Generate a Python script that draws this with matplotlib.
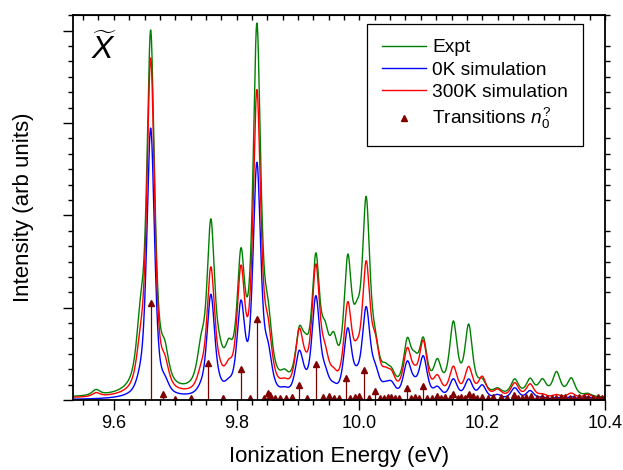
import numpy as np
import matplotlib
matplotlib.use("Agg")
import matplotlib.pyplot as plt
from matplotlib.ticker import MultipleLocator, NullFormatter, FormatStrFormatter

plt.rcParams["font.family"] = ["Liberation Sans", "DejaVu Sans"]
plt.rcParams["mathtext.fontset"] = "custom"
plt.rcParams["mathtext.it"] = "Liberation Sans:italic"
plt.rcParams["mathtext.rm"] = "Liberation Sans"

# band positions (eV), heights in major-tick units
peak_ev = [9.571, 9.643, 9.660, 9.683, 9.742, 9.758, 9.772, 9.787, 9.807, 9.833,
           9.851, 9.878, 9.902, 9.912, 9.929, 9.944, 9.958, 9.981, 9.996, 10.011,
           10.026, 10.042, 10.052, 10.078, 10.090, 10.104, 10.127, 10.153, 10.178,
           10.200, 10.225, 10.253, 10.278, 10.298, 10.321, 10.345, 10.372]
expt_h = [0.06, 0.55, 3.87, 0.30, 0.35, 1.76, 0.18, 0.30, 1.30, 3.87,
          0.55, 0.10, 0.52, 0.25, 1.35, 0.42, 0.40, 1.30, 0.45, 1.95,
          0.30, 0.14, 0.14, 0.50, 0.22, 0.52, 0.30, 0.74, 0.72,
          0.12, 0.06, 0.17, 0.17, 0.16, 0.25, 0.19, 0.03]
sim300_h = [0.04, 0.34, 3.62, 0.22, 0.15, 1.32, 0.10, 0.18, 1.22, 3.20,
            0.50, 0.06, 0.60, 0.10, 1.32, 0.30, 0.12, 0.90, 0.25, 1.32,
            0.42, 0.14, 0.16, 0.45, 0.12, 0.55, 0.18, 0.30, 0.30, 0.20,
            0.07, 0.15, 0.14, 0.03, 0.03, 0.05, 0.04]
sim0_h = [0.00, 0.10, 2.92, 0.10, 0.05, 1.09, 0.04, 0.08, 0.94, 2.48,
          0.38, 0.04, 0.44, 0.05, 1.05, 0.18, 0.06, 0.70, 0.12, 0.92,
          0.22, 0.08, 0.12, 0.36, 0.08, 0.43, 0.10, 0.20, 0.20, 0.14,
          0.04, 0.12, 0.09, 0.02, 0.02, 0.03, 0.03]
baseline = {"expt": 0.02, "sim0": 0.0, "sim300": 0.015}
lorentz_frac = {"expt": 0.75, "sim0": 0.55, "sim300": 0.65}

# stick spectrum (transitions)
stick_ev = [9.660, 9.680, 9.700, 9.725, 9.754, 9.778, 9.807, 9.822, 9.833, 9.845,
            9.851, 9.855, 9.862, 9.870, 9.880, 9.890, 9.902, 9.915, 9.929, 9.940,
            9.950, 9.958, 9.966, 9.978, 9.985, 9.992, 10.000, 10.007, 10.016, 10.025,
            10.033, 10.040, 10.046, 10.052, 10.058, 10.065, 10.077, 10.084, 10.090,
            10.097, 10.103, 10.110, 10.118, 10.127, 10.133, 10.140, 10.147, 10.153,
            10.160, 10.165, 10.172, 10.178, 10.185, 10.192, 10.200, 10.210, 10.218,
            10.230, 10.240, 10.251, 10.258, 10.265, 10.272, 10.279, 10.290, 10.298,
            10.305, 10.313, 10.320, 10.328, 10.335, 10.343, 10.350, 10.358, 10.365,
            10.372, 10.380, 10.388, 10.395]
stick_h = [1.05, 0.06, 0.01, 0.02, 0.40, 0.02, 0.34, 0.02, 0.88, 0.02,
           0.08, 0.05, 0.02, 0.02, 0.02, 0.03, 0.16, 0.02, 0.39, 0.03,
           0.04, 0.02, 0.02, 0.24, 0.02, 0.03, 0.04, 0.32, 0.02, 0.10,
           0.02, 0.02, 0.03, 0.03, 0.02, 0.02, 0.13, 0.02, 0.03,
           0.02, 0.15, 0.02, 0.02, 0.04, 0.02, 0.03, 0.02, 0.06,
           0.02, 0.03, 0.02, 0.06, 0.04, 0.02, 0.03, 0.02, 0.03,
           0.03, 0.02, 0.05, 0.02, 0.02, 0.03, 0.04, 0.02, 0.03,
           0.02, 0.02, 0.02, 0.03, 0.03, 0.02, 0.02, 0.03, 0.03,
           0.02, 0.02, 0.03, 0.02]

FWHM = 0.0150


def spectrum(x, heights, base, eta):
    y = np.full_like(x, base)
    for c, h in zip(peak_ev, heights):
        u = (x - c) / FWHM
        y += h * (eta / (1 + 4 * u**2) + (1 - eta) * np.exp(-4 * np.log(2) * u**2))
    return y


x = np.linspace(9.53, 10.41, 3000)

fig = plt.figure(figsize=(6.23, 4.70), dpi=100)
ax = fig.add_axes([0.1177, 0.1489, 0.8534, 0.8192])

ax.plot(x, spectrum(x, expt_h, baseline["expt"], lorentz_frac["expt"]),
        color="#008000", lw=1.0, label="Expt")
ax.plot(x, spectrum(x, sim0_h, baseline["sim0"], lorentz_frac["sim0"]),
        color="#0000ff", lw=1.0, label="0K simulation")
ax.plot(x, spectrum(x, sim300_h, baseline["sim300"], lorentz_frac["sim300"]),
        color="#ff0000", lw=1.0, label="300K simulation")
ax.vlines(stick_ev, 0, stick_h, color="#800000", lw=0.9)
ax.plot(stick_ev, stick_h, ls="none", marker="^", ms=4.2, color="#800000",
        label="Transitions $n_0^?$")

ax.set_xlim(9.534, 10.4)
ax.set_ylim(0, 4.17)
ax.xaxis.set_major_locator(MultipleLocator(0.2))
ax.xaxis.set_minor_locator(MultipleLocator(0.025))
ax.yaxis.set_major_locator(MultipleLocator(1))
ax.yaxis.set_minor_locator(MultipleLocator(1 / 6))
ax.yaxis.set_major_formatter(NullFormatter())
ax.xaxis.set_major_formatter(FormatStrFormatter("%.1f"))

ax.tick_params(axis="both", which="both", direction="out", width=1.0)
ax.tick_params(axis="both", which="major", length=7)
ax.tick_params(axis="both", which="minor", length=3.5)
ax.tick_params(axis="x", labelsize=13, pad=4)
ax.tick_params(axis="y", which="minor", right=True)
for sp in ax.spines.values():
    sp.set_linewidth(1.3)

# top axis: small inward ticks, no labels
top = ax.secondary_xaxis("top")
top.xaxis.set_major_locator(MultipleLocator(0.025))
top.xaxis.set_major_formatter(NullFormatter())
top.tick_params(direction="in", length=3.5, width=1.0)

ax.set_xlabel("Ionization Energy (eV)", fontsize=16, labelpad=10)
ax.set_ylabel("Intensity (arb units)", fontsize=16, labelpad=18)

ax.text(0.058, 0.91, r"$\widetilde{X}$", transform=ax.transAxes, fontsize=23,
        ha="center", va="center")

leg = ax.legend(loc="upper right", bbox_to_anchor=(0.9586, 0.9766), borderaxespad=0,
                fontsize=13.8, handlelength=2.3, handletextpad=0.3, labelspacing=0.26,
                borderpad=0.78, numpoints=1, fancybox=False, framealpha=1)
leg.get_frame().set_edgecolor("black")
leg.get_frame().set_linewidth(0.9)

fig.savefig("out.png", dpi=100)
